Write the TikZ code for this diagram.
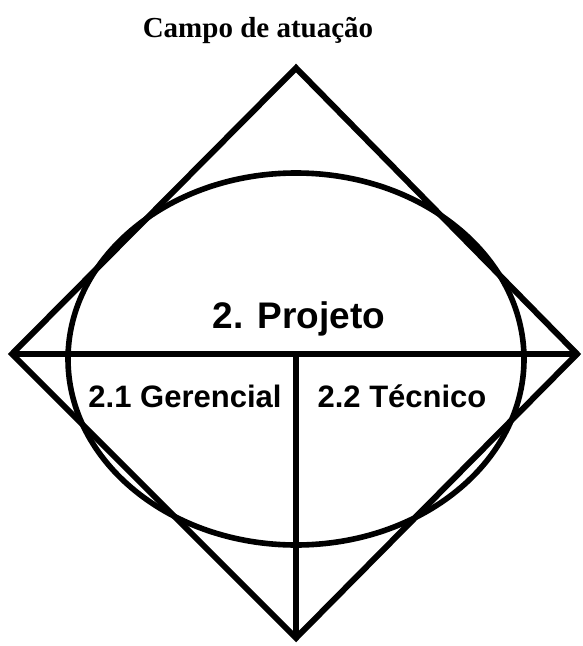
\documentclass[tikz,border=0pt]{standalone}
\usepackage{fontspec}
\setmainfont{Liberation Serif}
\setsansfont{Liberation Sans}
\usetikzlibrary{shapes.geometric, positioning}

\begin{document}
\begin{tikzpicture}[
        x=0.5pt, y=-0.5pt,
        edge/.style={line width=3pt, line join=miter},
        title/.style={font=\fontsize{14.5}{17}\selectfont\bfseries},
        main/.style={font=\sffamily\bfseries\fontsize{18.5}{21}\selectfont},
        part/.style={font=\sffamily\bfseries\fontsize{15.5}{18}\selectfont}
    ]
        \useasboundingbox (0,0) rectangle (582,646);

        % Corners
        \coordinate (top) at (296,68);
        \coordinate (left) at (12,354);
        \coordinate (right) at (577,354);
        \coordinate (bottom) at (296,638);
        \coordinate (mid) at (296,354);

        % Shapes
        \node[ellipse, draw, line width=2.8pt, minimum width=228pt,
              minimum height=186pt] (field) at (296,359) {};
        \draw[edge] (top) -- (right) -- (bottom) -- (left) -- cycle;
        \draw[edge] (left) -- (right);
        \draw[edge] (mid) -- (bottom);

        % Labels
        \node[title] (caption) at (258,30) {Campo de atuação};
        \node[main] (project) at (299,319) {2. Projeto};
        \node[part] (manager) at (185,396) {2.1 Gerencial};
        \node[part] (tech) at (402,396) {2.2 Técnico};
    \end{tikzpicture}
\end{document}
